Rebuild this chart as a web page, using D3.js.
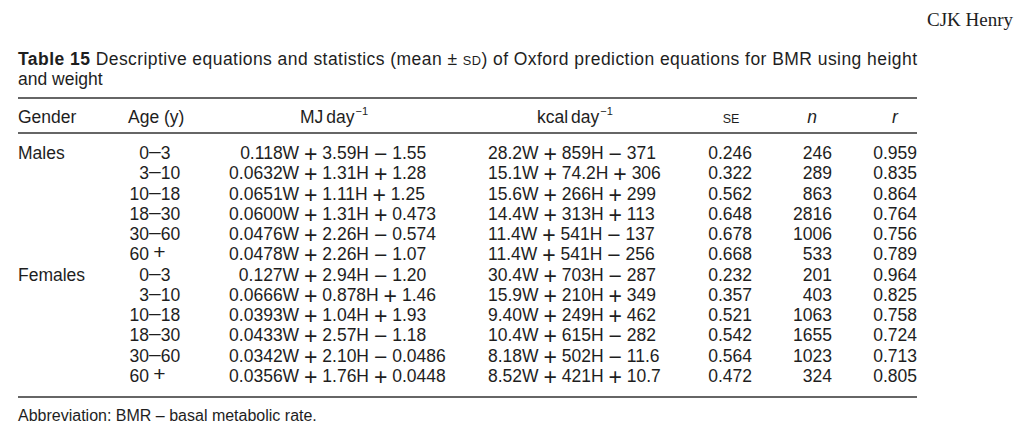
<!DOCTYPE html>
<html><head><meta charset="utf-8">
<script src="https://cdn.jsdelivr.net/npm/d3@7"></script>
<style>
html,body{margin:0;padding:0;background:#fff;}
svg text{font-family:"Liberation Sans",Arial,Helvetica,sans-serif;fill:#1e1e1e;white-space:pre;}
</style></head><body>
<div id="chart"></div>
<script>
// ---- data ----
const genders = ["Males","","","","","","Females","","","","",""];
const ages = ["0–3","3–10","10–18","18–30","30–60","60 +","0–3","3–10","10–18","18–30","30–60","60 +"];
const mjEquations = [
  "0.118W + 3.59H − 1.55","0.0632W + 1.31H + 1.28","0.0651W + 1.11H + 1.25",
  "0.0600W + 1.31H + 0.473","0.0476W + 2.26H − 0.574","0.0478W + 2.26H − 1.07",
  "0.127W + 2.94H − 1.20","0.0666W + 0.878H + 1.46","0.0393W + 1.04H + 1.93",
  "0.0433W + 2.57H − 1.18","0.0342W + 2.10H − 0.0486","0.0356W + 1.76H + 0.0448"];
const kcalEquations = [
  "28.2W + 859H − 371","15.1W + 74.2H + 306","15.6W + 266H + 299",
  "14.4W + 313H + 113","11.4W + 541H − 137","11.4W + 541H − 256",
  "30.4W + 703H − 287","15.9W + 210H + 349","9.40W + 249H + 462",
  "10.4W + 615H − 282","8.18W + 502H − 11.6","8.52W + 421H + 10.7"];
const seValues = ["0.246","0.322","0.562","0.648","0.678","0.668","0.232","0.357","0.521","0.542","0.564","0.472"];
const nValues = [246,289,863,2816,1006,533,201,403,1063,1655,1023,324];
const rValues = ["0.959","0.835","0.864","0.764","0.756","0.789","0.964","0.825","0.758","0.724","0.713","0.805"];
const headers = ["Gender","Age (y)","MJ day","kcal day","SE","n","r"];

// ---- layout ----
const W = 1024, H = 440;
const svg = d3.select("#chart").append("svg").attr("width", W).attr("height", H);
const left = 18, right = 917;
const y = d3.scalePoint().domain(d3.range(ages.length)).range([159, 382]);
const fs = 17.5;

// author
svg.append("text").attr("x", 1013).attr("y", 26).attr("text-anchor", "end")
  .style("font-family", "'Liberation Serif','Times New Roman',serif").style("font-size", "19px")
  .text("CJK Henry");

// title
const t1 = svg.append("text").attr("x", left).attr("y", 65).style("font-size", "17px");
t1.append("tspan").style("font-weight", "bold").text("Table 15");
t1.append("tspan").text(" Descriptive equations and statistics (mean ± ");
t1.append("tspan").style("font-size", "12.5px").text("SD");
t1.append("tspan").text(") of Oxford prediction equations for BMR using height");
const natural = t1.node().getComputedTextLength();
let tfs = Math.min(17.5, 17 * (right - left) / natural);
t1.style("font-size", tfs + "px").select("tspan:nth-child(3)").style("font-size", (tfs * 0.73) + "px");
t1.attr("textLength", right - left).attr("lengthAdjust", "spacing");
svg.append("text").attr("x", left).attr("y", 85).style("font-size", tfs + "px").text("and weight");

// rules
[98, 133, 397].forEach(yy => svg.append("line").attr("x1", left).attr("x2", right)
  .attr("y1", yy).attr("y2", yy).attr("stroke", "#333").attr("stroke-width", 1.4));

// headers
const hy = 123;
const hdr = (x, txt, anchor) => svg.append("text").attr("x", x).attr("y", hy)
  .attr("text-anchor", anchor || "start").style("font-size", "17.5px").text(txt);
hdr(left, headers[0]);
hdr(128, headers[1]);
const mjH = hdr(300, headers[2]).style("word-spacing", "-2px");
mjH.append("tspan").style("font-size", "11px").style("baseline-shift", "8px").text(" −1");
const kcH = hdr(537, headers[3]).style("word-spacing", "-2px");
kcH.append("tspan").style("font-size", "11px").style("baseline-shift", "8px").text(" −1");
hdr(731, headers[4], "middle").style("font-size", "12.5px");
hdr(812, headers[5], "middle").style("font-style", "italic");
hdr(895, headers[6], "middle").style("font-style", "italic");

// body
const rows = svg.append("g").selectAll("g").data(d3.range(ages.length)).join("g")
  .attr("transform", i => `translate(0,${y(i)})`).style("font-size", fs + "px");

rows.append("text").attr("x", left).text(i => genders[i]);

// helper: one text per cell; operators drawn larger and slightly lowered (math style),
// the cell is placed so that the end of its first term sits on alignX
function cell(sel, tokensOf, alignX, opt) {
  sel.append("text").each(function (i) {
    const t = d3.select(this);
    const toks = tokensOf(i);
    let first = null;
    toks.forEach((tok, k) => {
      const isOp = /^\s?[+−–]$/.test(tok);
      if (isOp) {
        t.append("tspan").text(tok).style("font-size", opt.size + "px")
          .style("baseline-shift", opt.shift + "px");
      } else {
        const s = (k > 0 ? opt.pad : "") + tok + (k < toks.length - 1 ? opt.pad : "");
        const ts = t.append("tspan").text(s);
        if (k === 0) first = ts;
      }
    });
    const w = opt.align === "first" ? first.node().getComputedTextLength() : 0;
    t.attr("x", alignX - w);
  });
}

// age: aligned on the dash
cell(rows, i => {
  const a = ages[i];
  return a.includes("–") ? [a.split("–")[0], "–", a.split("–")[1]] : [a.split(" ")[0], "\u2009+"];
}, 149, {size: 21, pad: "", shift: 1.5, align: "first"});

// MJ: aligned on the end of the first term (first term + its trailing space)
cell(rows, i => mjEquations[i].split(" "), 304, {size: 23, pad: " ", shift: -2.5, align: "first"});

// kcal: left aligned
cell(rows, i => kcalEquations[i].split(" "), 488, {size: 23, pad: " ", shift: -2.5, align: "start"});

rows.append("text").attr("x", 752).attr("text-anchor", "end").text(i => seValues[i]);
rows.append("text").attr("x", 832).attr("text-anchor", "end").text(i => nValues[i]);
rows.append("text").attr("x", 917).attr("text-anchor", "end").text(i => rValues[i]);

// footnote
svg.append("text").attr("x", left).attr("y", 421).style("font-size", "16px")
  .text("Abbreviation: BMR – basal metabolic rate.");
</script></body></html>
